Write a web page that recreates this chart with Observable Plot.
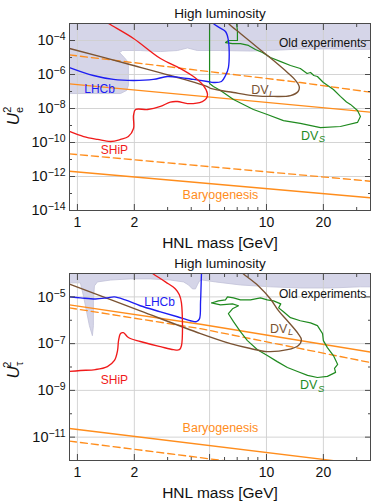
<!DOCTYPE html>
<html><head><meta charset="utf-8">
<script src="https://cdn.jsdelivr.net/npm/d3@7"></script>
<script src="https://cdn.jsdelivr.net/npm/@observablehq/plot@0.6"></script>
<style>
html,body{margin:0;padding:0;background:#fff;}
body{width:371px;height:501px;overflow:hidden;position:relative;}
.panel{position:absolute;left:0;}
</style></head><body>
<div id="topPanel" class="panel" style="top:0px"></div>
<div id="botPanel" class="panel" style="top:250px"></div>
<script>
// ---- axis ticks ----
const xMajorTicks = [1, 2, 5, 10, 20];
const xMinorTicks = [3, 4, 6, 7, 8, 9, 30];
const eMajorTicks = [1e-4, 1e-6, 1e-8, 1e-10, 1e-12, 1e-14];
const eMinorTicks = [1e-3, 1e-5, 1e-7, 1e-9, 1e-11, 1e-13];
const tauMajorTicks = [1e-5, 1e-7, 1e-9, 1e-11];
const tauMinorTicks = [1e-4, 1e-6, 1e-8, 1e-10, 1e-12];

// ---- curves: [HNL mass in GeV, log10(U^2)] ----
// electron panel
const oldE = [[0.908,-2.5],[0.908,-7.12],[1.69,-7.12],[1.82,-6.94],[1.86,-6.65],[1.86,-5.29],[1.77,-5.0],[1.67,-4.71],[1.73,-4.59],[2.15,-4.59],[2.75,-4.65],[3.38,-4.59],[3.82,-4.44],[4.31,-4.59],[5.71,-4.59],[8.23,-4.62],[11.9,-4.56],[15.1,-4.5],[21.8,-4.5],[31.4,-4.53],[40,-4.5],[40,-2.5],[0.908,-2.5]];
const shipE = [[1.28,-2.6],[1.46,-3.0],[1.98,-3.88],[2.75,-5.06],[3.51,-5.65],[4.11,-6.12],[4.64,-6.65],[4.87,-7.12],[4.81,-7.41],[4.58,-7.59],[3.82,-7.71],[3.38,-7.59],[3.10,-7.62],[2.75,-7.88],[2.35,-8.06],[2.03,-8.06],[1.98,-8.41],[1.98,-9.18],[1.86,-9.65],[1.69,-9.82],[1.50,-9.94],[1.28,-9.82],[1.08,-9.65],[0.908,-9.35]];
const lhcbE = [[0.908,-5.59],[1.215,-6.06],[1.55,-6.29],[1.98,-6.35],[2.52,-6.29],[2.99,-6.12],[3.51,-6.18],[4.11,-6.29],[4.87,-6.41],[5.24,-6.47],[5.78,-6.41],[6.07,-6.06],[6.29,-5.59],[6.29,-4.0],[6.07,-3.47],[5.64,-3.24],[5.24,-3.0],[5.1,-2.8]];
const dvlE = [[0.908,-4.47],[1.98,-5.47],[3.10,-6.06],[4.87,-6.71],[5.06,-6.82],[6.69,-7.06],[8.53,-7.24],[10.9,-7.29],[13.4,-7.24],[14.7,-7.0],[14.9,-6.71],[14.1,-6.29],[12.9,-5.88],[10.9,-5.18],[8.96,-4.41],[7.28,-3.59],[6.3,-3.0],[6.0,-2.7]];
const dvsE = [[5.0,-2.5],[5.0,-6.53],[5.24,-6.71],[5.71,-6.94],[6.69,-7.47],[8.53,-8.06],[10.1,-8.35],[12.3,-8.71],[15.1,-8.88],[19.3,-9.12],[24.6,-9.06],[30.3,-8.82],[31.4,-8.47],[30.3,-8.12],[27.8,-7.76],[26.5,-7.62],[24.6,-7.29],[22.6,-6.88],[20.0,-6.47],[18.6,-6.12],[17.8,-6.06],[17.1,-5.88],[16.4,-5.94],[15.1,-5.65],[13.4,-5.47],[11.9,-5.24],[10.5,-5.0],[9.52,-4.71],[8.74,-4.53],[8.03,-4.29],[7.28,-4.18],[6.61,-4.18],[6.07,-4.12],[6.29,-4.0],[7.02,-4.0],[7.02,-3.41],[6.94,-3.0],[6.94,-2.5],[5.0,-2.5]];
const baryoSolidE1 = [[0.908,-6.55],[35.5,-8.22]];
const baryoDashedE1 = [[0.908,-4.85],[15.1,-6.47],[35.5,-7.04]];
const baryoSolidE2 = [[0.908,-11.69],[35.5,-13.25]];
const baryoDashedE2 = [[0.908,-10.67],[35.5,-12.28]];

// tau panel
const oldT = [[0.908,-3.5],[0.908,-4.40],[1.037,-4.40],[1.076,-4.96],[1.116,-5.60],[1.157,-6.23],[1.20,-6.66],[1.215,-6.23],[1.215,-5.17],[1.23,-4.53],[1.276,-4.36],[1.50,-4.28],[1.91,-4.23],[2.43,-4.23],[3.10,-4.28],[3.64,-4.36],[3.87,-4.49],[4.06,-4.66],[4.21,-4.66],[4.31,-4.49],[4.42,-4.32],[4.58,-4.28],[5.37,-4.36],[7.28,-4.49],[10.5,-4.57],[15.1,-4.62],[21.8,-4.62],[31.4,-4.57],[40,-4.57],[40,-3.5],[0.908,-3.5]];
const shipT = [[2.3,-3.8],[2.52,-4.02],[2.92,-4.36],[3.30,-4.66],[3.46,-4.91],[3.55,-5.26],[3.55,-7.09],[3.46,-7.26],[3.22,-7.26],[2.75,-7.13],[2.15,-6.91],[1.86,-6.74],[1.75,-6.53],[1.69,-6.57],[1.65,-6.87],[1.63,-7.30],[1.57,-7.72],[1.44,-7.98],[1.245,-8.11],[1.037,-8.15],[0.908,-8.19]];
const lhcbT = [[0.908,-5.0],[1.037,-5.04],[1.245,-5.09],[1.44,-5.04],[1.57,-5.0],[1.79,-5.13],[2.15,-5.38],[2.75,-5.64],[3.38,-5.85],[3.96,-6.02],[4.26,-6.06],[4.42,-5.94],[4.48,-5.21],[4.53,-4.02],[4.55,-3.8]];
const dvlT = [[0.908,-4.45],[2.15,-5.60],[4.48,-6.57],[6.45,-7.0],[8.23,-7.21],[10.1,-7.34],[12.9,-7.26],[14.7,-7.09],[15.3,-6.83],[14.7,-6.57],[12.9,-6.02],[11.6,-5.60],[10.5,-5.09],[9.07,-4.53],[7.56,-4.02],[7.0,-3.8]];
const dvsT = [[5.12,-5.26],[5.57,-5.17],[6.07,-5.13],[6.22,-5.0],[6.69,-5.04],[7.28,-5.13],[8.23,-5.13],[9.29,-5.04],[10.1,-5.13],[10.9,-5.17],[11.9,-5.30],[11.6,-5.47],[12.3,-5.64],[13.4,-5.89],[15.1,-6.02],[17.1,-6.11],[18.6,-6.23],[19.8,-6.57],[20.0,-6.87],[21.0,-7.17],[22.6,-7.51],[23.8,-7.89],[22.9,-8.06],[23.2,-8.23],[21.0,-8.40],[18.6,-8.45],[16.5,-8.36],[14.6,-8.19],[12.9,-8.02],[11.4,-7.77],[10.1,-7.51],[8.96,-7.26],[7.93,-6.87],[7.28,-6.49],[6.69,-6.06],[6.29,-5.72],[6.61,-5.51],[7.11,-5.38],[6.61,-5.30],[5.71,-5.34],[5.12,-5.26]];
const baryoSolidT1 = [[0.908,-5.34],[4.48,-6.17],[35.5,-7.36]];
const baryoDashedT1 = [[0.908,-5.47],[4.48,-6.36],[35.5,-7.81]];
const baryoSolidT2 = [[0.908,-10.63],[35.5,-12.2]];
const baryoDashedT2 = [[0.908,-11.17],[35.5,-12.8]];

// ---- labels: [mass, log10(U^2)] ----
const labelsE = [
  {t:"LHCb", m:1.31, e:-6.84, k:"lhcb"},
  {t:"SHiP", m:1.57, e:-10.43, k:"ship"},
  {t:"Baryogenesis", m:5.71, e:-13.06, k:"baryo"},
  {t:"Old experiments", m:19.8, e:-4.18, k:"old"}
];
const dvLabelsE = [{sub:"L", m:10.25, e:-6.92, k:"dvl"}, {sub:"S", m:18.8, e:-9.59, k:"dvs"}];
const labelsT = [
  {t:"LHCb", m:2.72, e:-5.23, k:"lhcb"},
  {t:"SHiP", m:1.57, e:-8.56, k:"ship"},
  {t:"Baryogenesis", m:5.71, e:-10.59, k:"baryo"},
  {t:"Old experiments", m:19.8, e:-4.87, k:"old"}
];
const dvLabelsT = [{sub:"L", m:12.9, e:-6.36, k:"dvl"}, {sub:"S", m:18.6, e:-8.77, k:"dvs"}];

const titleText = "High luminosity";
const xLabelText = "HNL mass [GeV]";

// ---- style ----
const FONT = '"Liberation Sans", Arial, Helvetica, sans-serif';
const COL = {ship:"#f01a1a", lhcb:"#1d1df2", dvs:"#1f8a1f", dvl:"#7a5333", baryo:"#ff8d1c", old:"#111111"};
const REGION = "#d5d5e8", REGION_STROKE = "#c2c2d8", GRID = "#cfcfcf", FRAME = "#4a4a4a";

const pts = arr => arr.map(([m, e]) => ({m, u: Math.pow(10, e)}));

function makePanel(o) {
  const ln = (arr, stroke, extra = {}) => Plot.line(pts(arr), {x: "m", y: "u", stroke, strokeWidth: 1.35, clip: true, ...extra});
  const marks = [
    Plot.line(pts(o.old), {x: "m", y: "u", fill: REGION, stroke: REGION_STROKE, strokeWidth: 0.8, clip: true}),
    Plot.gridX(xMajorTicks, {stroke: GRID, strokeOpacity: 0.9}),
    Plot.gridY(o.yMajor, {stroke: GRID, strokeOpacity: 0.9}),
    ln(o.baryo[0], COL.baryo),
    ln(o.baryo[1], COL.baryo, {strokeDasharray: "7,4"}),
    ln(o.baryo[2], COL.baryo),
    ln(o.baryo[3], COL.baryo, {strokeDasharray: "7,4"}),
    ln(o.dvs, COL.dvs, {strokeWidth: 1.2}),
    ln(o.dvl, COL.dvl, {curve: "catmull-rom"}),
    ln(o.lhcb, COL.lhcb, {curve: "catmull-rom"}),
    ln(o.ship, COL.ship, {curve: "catmull-rom"}),
  ];
  for (const l of o.labels) {
    marks.push(Plot.text([l], {x: d => d.m, y: d => Math.pow(10, d.e), text: d => d.t, fill: COL[l.k], fontSize: l.k === "baryo" ? 12.5 : 12}));
  }
  for (const l of o.dv) {
    marks.push(Plot.text([l], {x: d => d.m, y: d => Math.pow(10, d.e), text: () => "DV", textAnchor: "end", fill: COL[l.k], fontSize: 12.5}));
    marks.push(Plot.text([l], {x: d => d.m, y: d => Math.pow(10, d.e), text: d => d.sub, textAnchor: "start", fill: COL[l.k], fontSize: 9.5, fontStyle: "italic", dy: 3.5, dx: 0.5}));
  }
  marks.push(
    Plot.frame({stroke: FRAME, strokeWidth: 1}),
    Plot.axisX(xMajorTicks, {anchor: "bottom", tickSize: 6, insetBottom: 6, fill: "none", stroke: FRAME, label: null}),
    Plot.axisX(xMinorTicks, {anchor: "bottom", tickSize: 3, insetBottom: 3, fill: "none", stroke: FRAME, label: null}),
    Plot.axisX(xMajorTicks, {anchor: "top", tickSize: 6, insetTop: 6, fill: "none", stroke: FRAME, label: null}),
    Plot.axisX(xMinorTicks, {anchor: "top", tickSize: 3, insetTop: 3, fill: "none", stroke: FRAME, label: null}),
    Plot.axisY(o.yMajor, {anchor: "left", tickSize: 6, insetLeft: 6, fill: "none", stroke: FRAME, label: null}),
    Plot.axisY(o.yMinor, {anchor: "left", tickSize: 3, insetLeft: 3, fill: "none", stroke: FRAME, label: null}),
    Plot.axisY(o.yMajor, {anchor: "right", tickSize: 6, insetRight: 6, fill: "none", stroke: FRAME, label: null}),
    Plot.axisY(o.yMinor, {anchor: "right", tickSize: 3, insetRight: 3, fill: "none", stroke: FRAME, label: null}),
    Plot.axisX(xMajorTicks, {anchor: "bottom", tickSize: 0, tickPadding: 7, fontSize: 14, tickFormat: d => String(d), label: null, fill: "#111"}),
    Plot.axisY(o.yMajor, {anchor: "left", tickSize: 0, tickPadding: 4, fontSize: 14.5, tickFormat: d => "10^" + Math.round(Math.log10(d)), label: null, fill: "#111"})
  );
  const svg = Plot.plot({
    width: 371, height: 250,
    marginLeft: 69, marginRight: 1, marginTop: 23, marginBottom: 40,
    style: {fontFamily: FONT, background: "transparent", overflow: "visible", color: "#111"},
    x: {type: "log", domain: [0.908, 35.5]},
    y: {type: "log", domain: o.yDomain},
    marks
  });
  const ns = "http://www.w3.org/2000/svg";
  // superscript exponents on y tick labels
  svg.querySelectorAll('[aria-label="y-axis tick label"] text').forEach(t => {
    const m = t.textContent.match(/^10\^(-?\d+)$/);
    if (!m) return;
    t.textContent = "";
    const a = document.createElementNS(ns, "tspan"); a.textContent = "10"; t.appendChild(a);
    const b = document.createElementNS(ns, "tspan"); b.textContent = m[1].replace("-", "\u2212");
    b.setAttribute("dy", "-0.45em"); b.setAttribute("font-size", "10.5"); t.appendChild(b);
  });
  const s = d3.select(svg);
  s.append("text").attr("x", 220).attr("y", 14).attr("text-anchor", "middle").attr("dominant-baseline", "middle")
    .attr("font-size", 13.5).attr("fill", "#111").text(titleText);
  s.append("text").attr("x", 220).attr("y", 244).attr("text-anchor", "middle").attr("dominant-baseline", "middle")
    .attr("font-size", 15.5).attr("fill", "#111").text(xLabelText);
  const yl = s.append("text").attr("transform", `translate(19,${o.yLabelY}) rotate(-90)`).attr("text-anchor", "middle")
    .attr("font-size", 17).attr("fill", "#111");
  yl.append("tspan").attr("font-style", "italic").text("U");
  yl.append("tspan").attr("font-size", 11).attr("dy", 4).text(o.sub);
  yl.append("tspan").attr("font-size", 11).attr("dx", -6).attr("dy", -12).text("2");
  return svg;
}

document.getElementById("topPanel").appendChild(makePanel({
  yDomain: [1e-14, 1e-3], yMajor: eMajorTicks, yMinor: eMinorTicks,
  old: oldE, ship: shipE, lhcb: lhcbE, dvl: dvlE, dvs: dvsE,
  baryo: [baryoSolidE1, baryoDashedE1, baryoSolidE2, baryoDashedE2],
  labels: labelsE, dv: dvLabelsE, sub: "e", yLabelY: 116
}));
document.getElementById("botPanel").appendChild(makePanel({
  yDomain: [1e-12, 1e-4], yMajor: tauMajorTicks, yMinor: tauMinorTicks,
  old: oldT, ship: shipT, lhcb: lhcbT, dvl: dvlT, dvs: dvsT,
  baryo: [baryoSolidT1, baryoDashedT1, baryoSolidT2, baryoDashedT2],
  labels: labelsT, dv: dvLabelsT, sub: "\u03C4", yLabelY: 120
}));
</script>
</body></html>
